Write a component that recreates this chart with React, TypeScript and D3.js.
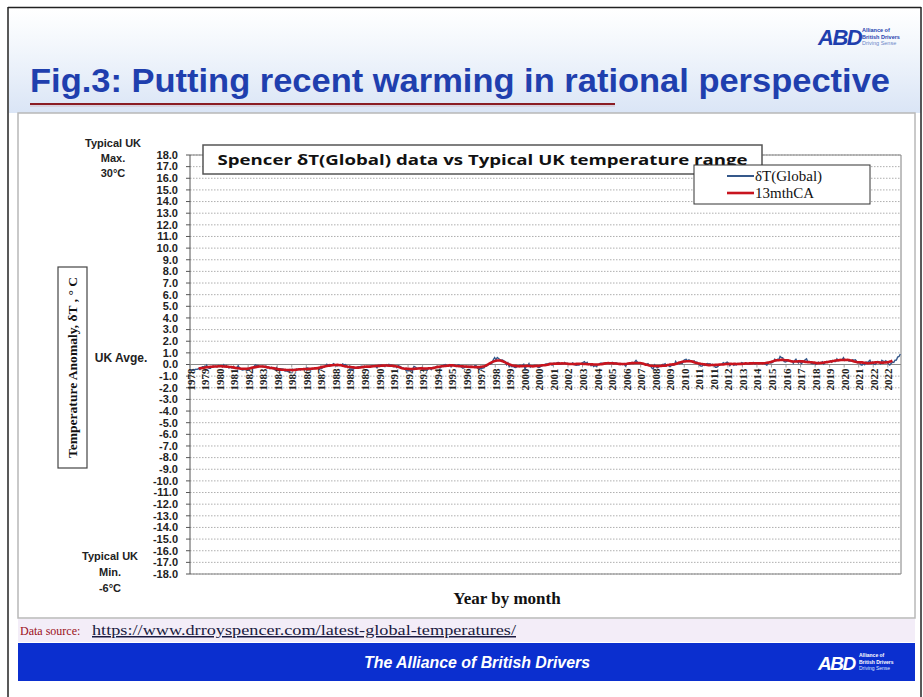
import React from "react";
import * as d3 from "d3";

// UAH global lower-troposphere anomaly (°C), monthly, Dec 1978 – Sep 2023
const START_YEAR = 1978;
const START_MONTH = 12;

const deltaT_1978_1989 = [
  -0.45,
  -0.48, -0.5, -0.44, -0.41, -0.42, -0.35, -0.44, -0.3, -0.19, -0.19, -0.23, -0.05,
  -0.24, -0.33, -0.33, -0.2, -0.13, -0.18, -0.14, -0.21, -0.09, -0.11, -0.08, -0.2,
  -0.02, -0.21, -0.09, -0.21, -0.29, -0.23, -0.3, -0.24, -0.26, -0.33, -0.24, -0.1,
  -0.31, -0.41, -0.48, -0.46, -0.42, -0.47, -0.41, -0.47, -0.32, -0.35, -0.34, -0.16,
  -0.03, -0.09, -0.09, -0.14, -0.16, -0.16, -0.2, -0.17, -0.13, -0.26, -0.22, -0.36,
  -0.24, -0.34, -0.39, -0.47, -0.27, -0.44, -0.39, -0.37, -0.38, -0.4, -0.54, -0.56,
  -0.56, -0.62, -0.43, -0.44, -0.41, -0.47, -0.5, -0.4, -0.44, -0.41, -0.46, -0.38,
  -0.37, -0.47, -0.35, -0.28, -0.33, -0.39, -0.43, -0.39, -0.36, -0.34, -0.33, -0.29,
  -0.34, -0.28, -0.36, -0.26, -0.19, -0.12, 0.02, -0.07, -0.01, -0.08, -0.07, 0.07,
  0.0, -0.11, -0.11, -0.07, -0.04, -0.06, 0.05, -0.03, -0.01, -0.1, -0.27, -0.15,
  -0.5, -0.37, -0.41, -0.31, -0.33, -0.25, -0.19, -0.21, -0.14, -0.17, -0.28, -0.22,
];

const deltaT_1990_1999 = [
  -0.23, -0.23, -0.2, -0.14, -0.1, -0.13, -0.12, -0.17, -0.28, -0.08, -0.07, -0.03,
  -0.09, -0.11, -0.18, -0.03, -0.12, 0.01, -0.03, -0.04, -0.11, -0.18, -0.13, -0.26,
  -0.09, -0.14, -0.2, -0.32, -0.3, -0.36, -0.52, -0.54, -0.55, -0.51, -0.51, -0.37,
  -0.17, -0.22, -0.31, -0.34, -0.29, -0.32, -0.26, -0.42, -0.4, -0.42, -0.5, -0.31,
  -0.3, -0.43, -0.27, -0.25, -0.26, -0.18, -0.2, -0.26, -0.28, -0.13, -0.08, -0.03,
  0.0, -0.09, -0.12, -0.02, -0.2, -0.03, -0.06, -0.02, -0.16, -0.06, -0.03, -0.14,
  -0.24, -0.32, -0.27, -0.2, -0.22, -0.14, -0.16, -0.14, -0.17, -0.22, -0.1, -0.11,
  -0.31, -0.34, -0.3, -0.37, -0.3, -0.28, -0.12, -0.13, -0.04, 0.06, 0.05, 0.13,
  0.41, 0.6, 0.4, 0.6, 0.51, 0.43, 0.37, 0.38, 0.3, 0.26, -0.02, 0.14,
  -0.18, -0.05, -0.19, -0.15, -0.25, -0.26, -0.16, -0.12, -0.07, -0.1, -0.09, 0.01,
];

const deltaT_2000_2009 = [
  -0.4, -0.15, -0.12, 0.07, -0.22, -0.12, -0.15, -0.08, -0.09, -0.15, -0.25, -0.24,
  -0.17, -0.11, -0.06, 0.0, 0.04, 0.04, 0.09, 0.11, -0.03, -0.05, 0.13, 0.03,
  0.12, 0.17, 0.16, 0.03, 0.05, 0.08, 0.17, 0.04, 0.1, 0.05, 0.08, 0.02,
  0.13, 0.05, -0.05, -0.07, -0.03, -0.05, 0.04, 0.12, 0.18, 0.24, 0.08, 0.18,
  0.0, 0.07, -0.1, -0.02, -0.18, -0.09, -0.17, -0.03, 0.03, 0.11, 0.12, 0.07,
  0.12, 0.08, 0.14, 0.15, 0.07, 0.12, 0.19, 0.06, 0.14, 0.13, 0.09, 0.04,
  -0.02, 0.06, -0.02, 0.06, -0.13, 0.02, 0.06, 0.06, 0.1, 0.18, 0.12, 0.22,
  0.36, 0.2, 0.11, 0.13, 0.08, 0.02, 0.09, 0.04, 0.01, 0.07, -0.05, -0.14,
  -0.31, -0.39, -0.03, -0.15, -0.28, -0.2, -0.1, -0.14, 0.0, 0.0, 0.06, -0.13,
  -0.03, -0.13, -0.16, -0.07, -0.06, -0.02, 0.26, 0.05, 0.17, 0.06, 0.13, 0.1,
];

const deltaT_2010_2019 = [
  0.35, 0.41, 0.45, 0.3, 0.4, 0.33, 0.28, 0.26, 0.31, 0.17, 0.21, 0.09,
  -0.04, -0.14, -0.13, -0.02, -0.08, 0.05, 0.08, 0.04, 0.07, -0.04, 0.01, -0.04,
  -0.24, -0.24, -0.16, -0.03, -0.01, 0.03, 0.16, 0.08, 0.14, 0.21, 0.12, -0.1,
  0.06, 0.06, -0.07, 0.0, -0.04, 0.1, 0.03, 0.05, 0.17, 0.11, 0.05, 0.13,
  0.04, 0.04, 0.04, 0.12, 0.16, 0.18, 0.03, 0.07, 0.16, 0.16, 0.09, 0.16,
  0.14, 0.05, 0.03, -0.06, 0.15, 0.2, 0.13, 0.16, 0.25, 0.45, 0.33, 0.45,
  0.41, 0.7, 0.6, 0.58, 0.26, 0.21, 0.26, 0.31, 0.31, 0.28, 0.32, 0.11,
  0.33, 0.45, 0.23, 0.14, 0.31, 0.08, 0.17, 0.31, 0.4, 0.48, 0.23, 0.28,
  0.15, 0.08, 0.06, 0.13, -0.01, 0.08, 0.19, 0.07, 0.14, 0.23, 0.03, 0.15,
  0.25, 0.24, 0.21, 0.31, 0.19, 0.34, 0.25, 0.26, 0.48, 0.33, 0.42, 0.43,
];

const deltaT_2020_2023 = [
  0.42, 0.59, 0.35, 0.42, 0.42, 0.3, 0.31, 0.3, 0.4, 0.38, 0.4, 0.27,
  0.12, 0.2, -0.01, -0.05, 0.08, -0.01, 0.2, 0.17, 0.25, 0.37, 0.08, 0.21,
  0.03, -0.0, 0.15, 0.26, 0.17, 0.06, 0.36, 0.28, 0.24, 0.32, 0.17, 0.05,
  -0.04, 0.08, 0.2, 0.18, 0.37, 0.38, 0.64, 0.69, 0.9,
];

const deltaT = [
  ...deltaT_1978_1989,
  ...deltaT_1990_1999,
  ...deltaT_2000_2009,
  ...deltaT_2010_2019,
  ...deltaT_2020_2023,
];

// Category (month) list
const categories = deltaT.map((_, i) => {
  const m = START_MONTH - 1 + i;
  return { year: START_YEAR + Math.floor(m / 12), month: (m % 12) + 1 };
});

const yTickValues = d3.range(-18, 19, 1);
const LABEL_EVERY = 11;
const CA_WINDOW = 13;

const seriesNames = ["δT(Global)", "13mthCA"];
const leftNotesTop = ["Typical UK", "Max.", "30°C"];
const leftNotesBottom = ["Typical UK", "Min.", "-6°C"];

const W = 923;
const H = 697;
const PL = 190,
  PR = 901,
  PT = 155,
  PB = 574;

export default function App() {
  const x = d3
    .scaleBand<number>()
    .domain(deltaT.map((_, i) => i))
    .range([PL, PR]);
  const xc = (i: number) => (x(i) as number) + x.bandwidth() / 2;
  const y = d3.scaleLinear().domain([-18, 18]).range([PB, PT]);

  const half = Math.floor(CA_WINDOW / 2);
  const ca: [number, number][] = [];
  for (let i = half; i < deltaT.length - half; i++) {
    ca.push([i, d3.mean(deltaT.slice(i - half, i + half + 1)) as number]);
  }

  const line = d3
    .line<[number, number]>()
    .x((d) => xc(d[0]))
    .y((d) => y(d[1]));
  const rawPath = line(deltaT.map((v, i) => [i, v] as [number, number])) || "";
  const caPath = line(ca) || "";

  const sans = "'Liberation Sans', Arial, sans-serif";
  const serif = "'Liberation Serif', 'Times New Roman', serif";
  const titleBlue = "#1f3fae";

  const labelIdx = deltaT.map((_, i) => i).filter((i) => i % LABEL_EVERY === 0);

  return (
    <svg
      width={W}
      height={H}
      viewBox={`0 0 ${W} ${H}`}
      style={{ position: "absolute", left: 0, top: 0, background: "#fff" }}
    >
      <defs>
        <linearGradient id="hdr" x1="0" y1="0" x2="0" y2="1">
          <stop offset="0" stopColor="#ffffff" />
          <stop offset="0.35" stopColor="#f3f7fc" />
          <stop offset="1" stopColor="#dae5f6" />
        </linearGradient>
      </defs>
      <rect x={0} y={0} width={W} height={H} fill="#fff" />
      {/* header gradient */}
      <rect x={9} y={9} width={912} height={104} fill="url(#hdr)" />

      {/* logo top right */}
      <g>
        <text
          x={818}
          y={45}
          fontFamily={sans}
          fontWeight="bold"
          fontStyle="italic"
          fontSize={22}
          fill={titleBlue}
          letterSpacing={-1.5}
        >
          ABD
        </text>
        <text x={862} y={32} fontFamily={sans} fontSize={5.5} fill={titleBlue} fontWeight="bold">
          Alliance of
        </text>
        <text x={862} y={38.5} fontFamily={sans} fontSize={5.5} fill={titleBlue} fontWeight="bold">
          British Drivers
        </text>
        <text x={862} y={45} fontFamily={sans} fontSize={5.5} fill="#6a86c8">
          Driving Sense
        </text>
      </g>

      {/* slide title */}
      <text
        x={30}
        y={92}
        fontFamily={sans}
        fontWeight="bold"
        fontSize={33}
        fill={titleBlue}
        textLength={860}
        lengthAdjust="spacingAndGlyphs"
      >
        Fig.3: Putting recent warming in rational perspective
      </text>
      <line x1={30} x2={615} y1={104} y2={104} stroke="#8a1c24" strokeWidth={2} />
      <line x1={30} x2={615} y1={106} y2={106} stroke="#c9a0a6" strokeWidth={1} opacity={0.6} />

      {/* chart panel */}
      <rect x={18} y={113} width={897} height={505} fill="#fff" stroke="#b8b8b8" strokeWidth={1.5} />

      {/* gridlines */}
      {yTickValues.map((t) => (
        <line
          key={"g" + t}
          x1={PL}
          x2={PR}
          y1={y(t)}
          y2={y(t)}
          stroke="#9a9a9a"
          strokeWidth={0.8}
          strokeDasharray="1.5,1.5"
        />
      ))}
      {/* plot frame */}
      <line x1={PL} x2={PR} y1={PT} y2={PT} stroke="#808080" strokeWidth={1} />
      <line x1={PR} x2={PR} y1={PT} y2={PB} stroke="#808080" strokeWidth={1} />
      <line x1={PL} x2={PR} y1={PB} y2={PB} stroke="#808080" strokeWidth={1} />
      <line x1={PL} x2={PL} y1={PT} y2={PB} stroke="#555" strokeWidth={1} />
      {yTickValues.map((t) => (
        <line key={"yt" + t} x1={PL - 4} x2={PL} y1={y(t)} y2={y(t)} stroke="#555" strokeWidth={1} />
      ))}
      {yTickValues.map((t) => (
        <text
          key={"yl" + t}
          x={178}
          y={y(t)}
          dy="0.35em"
          textAnchor="end"
          fontFamily={sans}
          fontWeight="bold"
          fontSize={11}
          fill="#222"
        >
          {t.toFixed(1)}
        </text>
      ))}

      {/* x axis at zero */}
      <line x1={PL} x2={PR} y1={y(0)} y2={y(0)} stroke="#8a8a8a" strokeWidth={1} />
      {labelIdx.map((i) => (
        <line
          key={"xt" + i}
          x1={x(i) as number}
          x2={x(i) as number}
          y1={y(0)}
          y2={y(0) + 3}
          stroke="#8a8a8a"
          strokeWidth={0.8}
        />
      ))}
      {labelIdx.map((i) => (
        <text
          key={"xl" + i}
          transform={`translate(${xc(i)},${y(0) + 4}) rotate(-90)`}
          dy="0.35em"
          textAnchor="end"
          fontFamily={serif}
          fontWeight="bold"
          fontSize={11}
          fill="#222"
        >
          {categories[i].year}
        </text>
      ))}

      {/* series */}
      <path d={rawPath} fill="none" stroke="#35588a" strokeWidth={1.4} />
      <path d={caPath} fill="none" stroke="#c8141e" strokeWidth={2.6} strokeLinejoin="round" />

      {/* chart title box */}
      <rect x={203} y={145} width={559} height={29} fill="#fff" stroke="#555" strokeWidth={1.5} />
      <text
        x={482.5}
        y={160}
        dy="0.35em"
        textAnchor="middle"
        fontFamily={"'Open Sans', " + sans}
        fontWeight="bold"
        fontSize={15}
        fill="#111"
        textLength={530}
        lengthAdjust="spacingAndGlyphs"
      >
        Spencer δT(Global) data vs Typical UK temperature range
      </text>

      {/* legend */}
      <rect x={694} y={165} width={176} height={39} fill="#fff" stroke="#333" strokeWidth={1} />
      <line x1={727} x2={754} y1={176} y2={176} stroke="#35588a" strokeWidth={2} />
      <line x1={727} x2={754} y1={193} y2={193} stroke="#c8141e" strokeWidth={2.6} />
      <text x={755} y={176} dy="0.35em" fontFamily={serif} fontSize={15} fill="#111">
        {seriesNames[0]}
      </text>
      <text x={755} y={193} dy="0.35em" fontFamily={serif} fontSize={15} fill="#111">
        {seriesNames[1]}
      </text>

      {/* left annotations */}
      {leftNotesTop.map((s, k) => (
        <text
          key={"nt" + k}
          x={113}
          y={143 + k * 15}
          dy="0.35em"
          textAnchor="middle"
          fontFamily={sans}
          fontWeight="bold"
          fontSize={11}
          fill="#222"
        >
          {s}
        </text>
      ))}
      <text
        x={121}
        y={358}
        dy="0.35em"
        textAnchor="middle"
        fontFamily={sans}
        fontWeight="bold"
        fontSize={12}
        fill="#222"
      >
        UK Avge.
      </text>
      {leftNotesBottom.map((s, k) => (
        <text
          key={"nb" + k}
          x={110}
          y={556 + k * 16}
          dy="0.35em"
          textAnchor="middle"
          fontFamily={sans}
          fontWeight="bold"
          fontSize={11}
          fill="#222"
        >
          {s}
        </text>
      ))}

      {/* y axis title */}
      <rect x={58} y={267} width={29} height={201} fill="#fff" stroke="#444" strokeWidth={1.2} />
      <text
        transform="translate(72.5,367.5) rotate(-90)"
        dy="0.35em"
        textAnchor="middle"
        fontFamily={serif}
        fontWeight="bold"
        fontSize={13}
        fill="#111"
        textLength={181}
        lengthAdjust="spacingAndGlyphs"
      >
        Temperature Anomaly, δT , ° C
      </text>

      {/* x axis title */}
      <text
        x={507}
        y={598}
        dy="0.35em"
        textAnchor="middle"
        fontFamily={serif}
        fontWeight="bold"
        fontSize={17}
        fill="#111"
      >
        Year by month
      </text>

      {/* data source */}
      <rect x={18} y={619} width={897} height={23} fill="#f3edf8" />
      <text x={20} y={635} fontFamily={serif} fontSize={12} fill="#9b1020">
        Data source:
      </text>
      <text
        x={92}
        y={635}
        fontFamily={serif}
        fontSize={15}
        fill="#1a1a40"
        textDecoration="underline"
        textLength={424}
        lengthAdjust="spacingAndGlyphs"
      >
        https://www.drroyspencer.com/latest-global-temperatures/
      </text>

      {/* footer bar */}
      <rect x={18} y={643} width={897} height={38} fill="#0b2fcf" />
      <text
        x={477}
        y={662}
        dy="0.35em"
        textAnchor="middle"
        fontFamily={sans}
        fontWeight="bold"
        fontStyle="italic"
        fontSize={17}
        fill="#fff"
        textLength={226}
        lengthAdjust="spacingAndGlyphs"
      >
        The Alliance of British Drivers
      </text>
      <text
        x={818}
        y={670}
        fontFamily={sans}
        fontWeight="bold"
        fontStyle="italic"
        fontSize={19}
        fill="#fff"
        letterSpacing={-1.5}
      >
        ABD
      </text>
      <text x={859} y={657} fontFamily={sans} fontSize={5} fill="#fff" fontWeight="bold">
        Alliance of
      </text>
      <text x={859} y={663.5} fontFamily={sans} fontSize={5} fill="#fff" fontWeight="bold">
        British Drivers
      </text>
      <text x={859} y={670} fontFamily={sans} fontSize={5} fill="#dfe6ff">
        Driving Sense
      </text>

      {/* slide border */}
      <line x1={8} x2={8} y1={7} y2={H} stroke="#222" strokeWidth={1.5} />
      <line x1={8} x2={921} y1={7.5} y2={7.5} stroke="#222" strokeWidth={1.5} />
      <line x1={921} x2={921} y1={7} y2={H} stroke="#222" strokeWidth={1.5} />
    </svg>
  );
}
